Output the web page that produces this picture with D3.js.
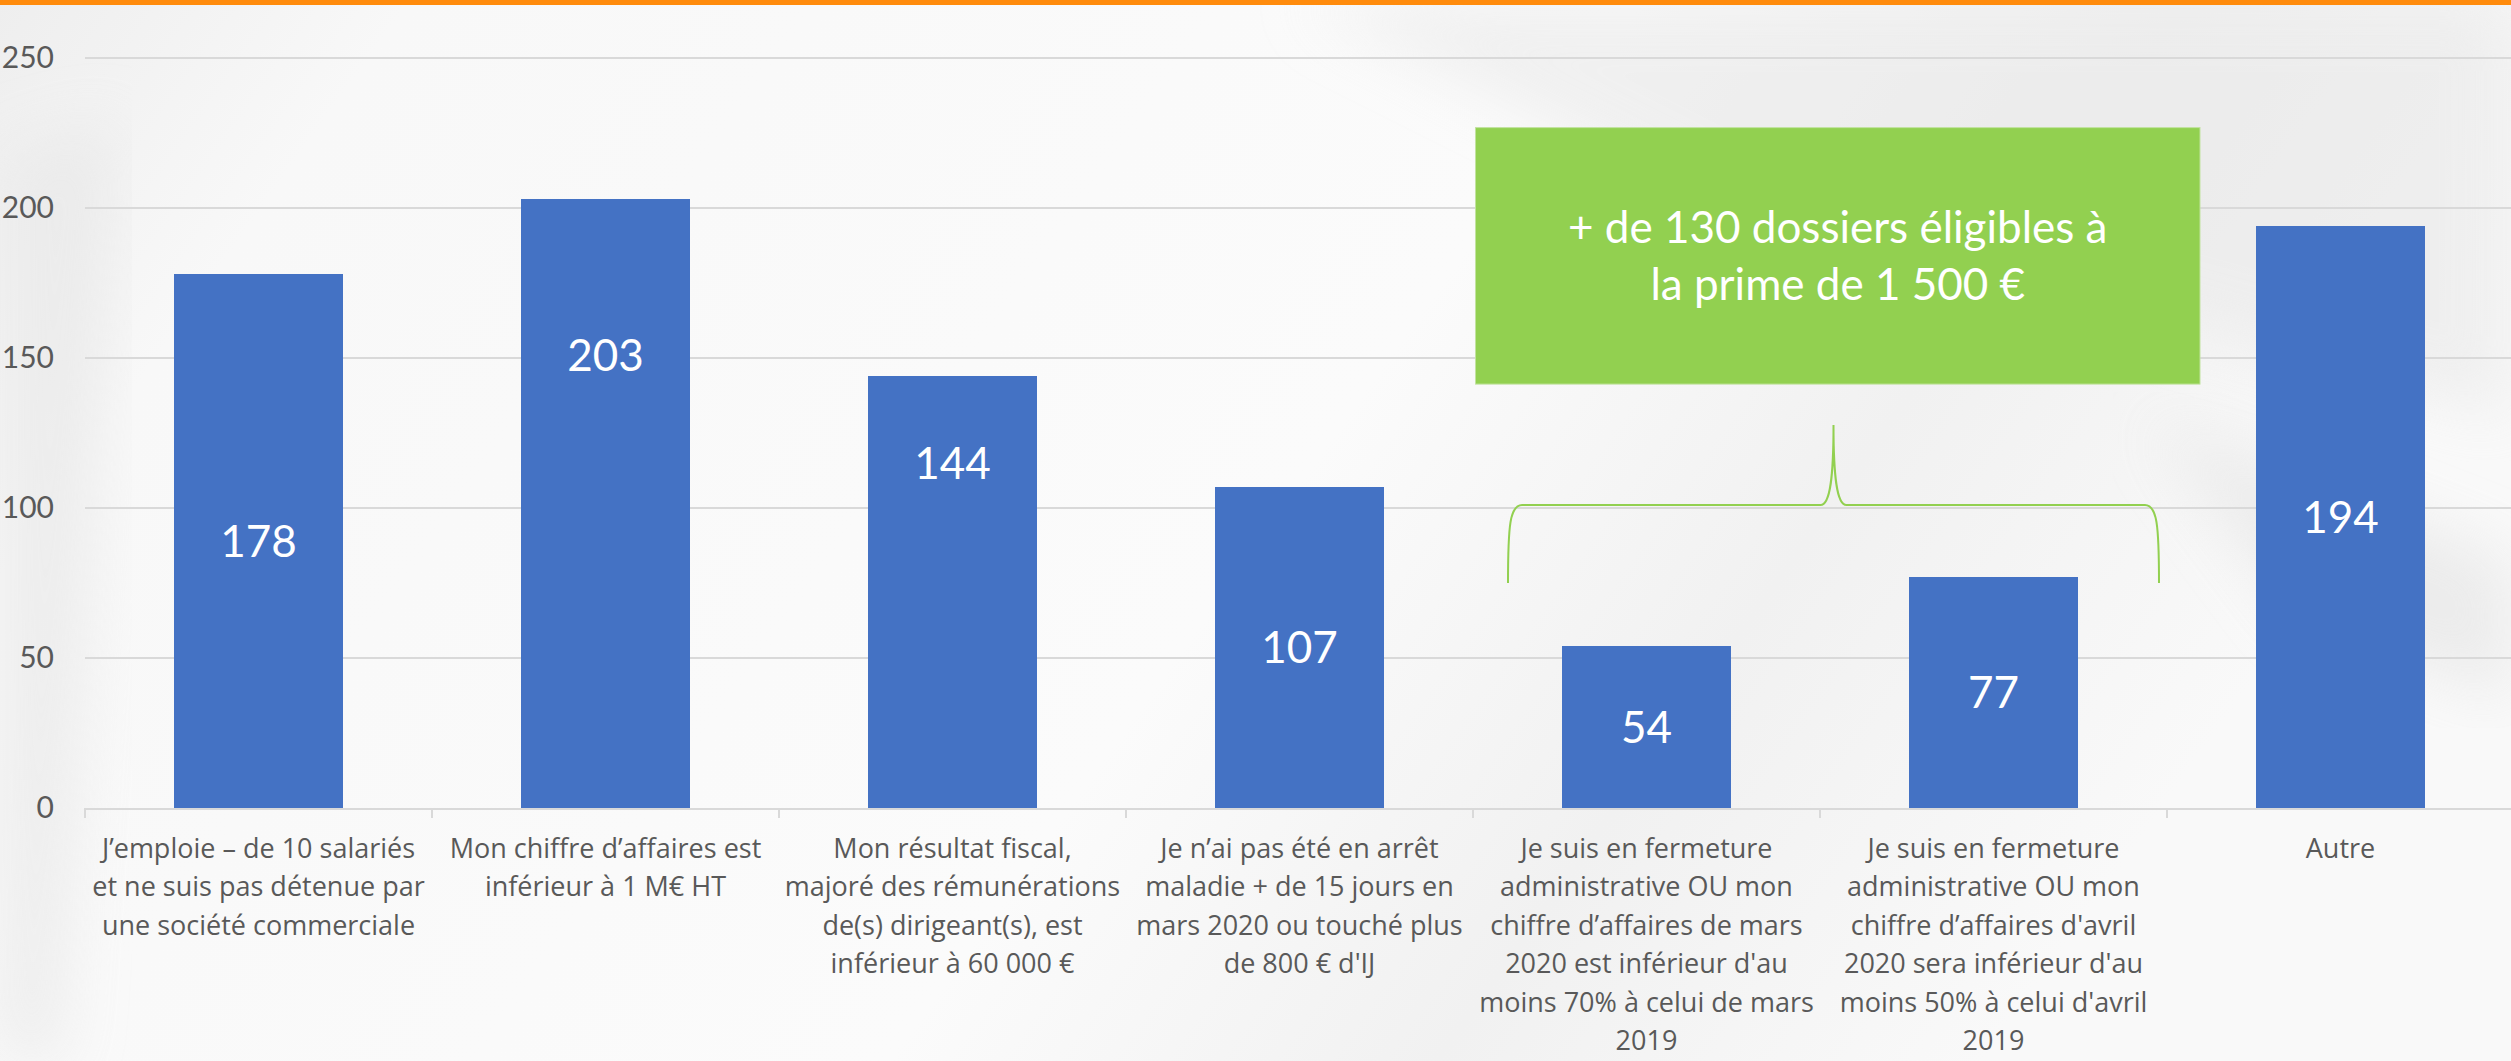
<!DOCTYPE html>
<html lang="fr">
<head>
<meta charset="utf-8">
<title>Dossiers éligibles</title>
<script src="https://cdn.jsdelivr.net/npm/d3@7/dist/d3.min.js"></script>
<style>
  body { margin: 0; background: #f6f6f6; overflow: hidden; }
  svg { display: block; font-family: Lato, "Open Sans", sans-serif; }
</style>
</head>
<body>
<div id="chart"></div>
<script>
// categories (line breaks as in the original slide)
var categories = [
  "J’emploie – de 10 salariés\net ne suis pas détenue par\nune société commerciale",
  "Mon chiffre d’affaires est\ninférieur à 1 M€ HT",
  "Mon résultat fiscal,\nmajoré des rémunérations\nde(s) dirigeant(s), est\ninférieur à 60 000 €",
  "Je n’ai pas été en arrêt\nmaladie + de 15 jours en\nmars 2020 ou touché plus\nde 800 € d'IJ",
  "Je suis en fermeture\nadministrative OU mon\nchiffre d’affaires de mars\n2020 est inférieur d'au\nmoins 70% à celui de mars\n2019",
  "Je suis en fermeture\nadministrative OU mon\nchiffre d’affaires d'avril\n2020 sera inférieur d'au\nmoins 50% à celui d'avril\n2019",
  "Autre"
];
var values = [178, 203, 144, 107, 54, 77, 194];
var yTicks = [0, 50, 100, 150, 200, 250];
// the 203 and 144 labels were moved up by hand in the original
var labelLift = [0, 49.5, 43, 0, 0, 0, 0];
var calloutLines = ["+ de 130 dossiers éligibles à", "la prime de 1 500 €"];
var bracketCats = [4, 5];

var W = 2511, H = 1061;
var svg = d3.select("#chart").append("svg")
    .attr("width", W)
    .attr("height", H);

// background
var defs = svg.append("defs");
var bg = defs.append("linearGradient").attr("id", "bg")
    .attr("x1", "0").attr("y1", "0").attr("x2", "1").attr("y2", "0.3");
bg.append("stop").attr("offset", "0").attr("stop-color", "#eeeeee");
bg.append("stop").attr("offset", "0.15").attr("stop-color", "#f8f8f8");
bg.append("stop").attr("offset", "0.6").attr("stop-color", "#fbfbfb");
bg.append("stop").attr("offset", "0.8").attr("stop-color", "#f1f1f1");
bg.append("stop").attr("offset", "1").attr("stop-color", "#f9f9f9");
defs.append("filter").attr("id", "blur")
    .append("feGaussianBlur").attr("stdDeviation", 30);
svg.append("rect").attr("width", W).attr("height", H).attr("fill", "url(#bg)");
svg.append("path")
    .attr("d", "M1300,0 L2511,0 L2511,420 L2200,330 L1700,200 Z")
    .attr("fill", "#e9e9e9").attr("opacity", 0.6).attr("filter", "url(#blur)");
svg.append("path")
    .attr("d", "M2150,420 L2511,560 L2511,700 L2300,620 Z")
    .attr("fill", "#e6e6e6").attr("opacity", 0.7).attr("filter", "url(#blur)");
svg.append("path")
    .attr("d", "M0,150 L120,120 L60,1061 L0,1061 Z")
    .attr("fill", "#e8e8e8").attr("opacity", 0.7).attr("filter", "url(#blur)");

// orange band on top
svg.append("rect").attr("x", 0).attr("y", 0).attr("width", W).attr("height", 5)
    .attr("fill", "#ff8b0c");

// scales
var x = d3.scaleBand()
    .domain(d3.range(categories.length))
    .range([85, 2514])
    .paddingInner(0.513)
    .paddingOuter(0.2565);
var y = d3.scaleLinear().domain([0, 250]).range([808, 58]);
var step = x.step();
var slot = function(i) { return x(i) - x.paddingOuter() * step; };

// grid
svg.append("g").selectAll("line")
    .data(yTicks.filter(function(d) { return d > 0; }))
    .enter().append("line")
    .attr("x1", 85).attr("x2", W)
    .attr("y1", function(d) { return y(d); })
    .attr("y2", function(d) { return y(d); })
    .attr("stroke", "#d9d9d9").attr("stroke-width", 2);

// y axis labels
var yAxis = svg.append("g")
    .attr("transform", "translate(54,0)")
    .call(d3.axisLeft(y).tickValues(yTicks).tickSize(0).tickPadding(0));
yAxis.select(".domain").remove();
yAxis.selectAll("text")
    .attr("font-family", "Lato, sans-serif")
    .attr("font-size", 30)
    .attr("fill", "#595959");

// bars
svg.append("g").selectAll("rect")
    .data(values)
    .enter().append("rect")
    .attr("x", function(d, i) { return x(i); })
    .attr("y", function(d) { return y(d); })
    .attr("width", x.bandwidth())
    .attr("height", function(d) { return y(0) - y(d); })
    .attr("fill", "#4472c4");

// x axis line and ticks
svg.append("line")
    .attr("x1", 85).attr("x2", W)
    .attr("y1", y(0) + 1).attr("y2", y(0) + 1)
    .attr("stroke", "#d9d9d9").attr("stroke-width", 2);
svg.append("g").selectAll("line")
    .data(d3.range(categories.length + 1))
    .enter().append("line")
    .attr("x1", function(i) { return 85 + i * step; })
    .attr("x2", function(i) { return 85 + i * step; })
    .attr("y1", y(0)).attr("y2", y(0) + 10)
    .attr("stroke", "#d9d9d9").attr("stroke-width", 2);

// category labels
var catLabels = svg.append("g").selectAll("text")
    .data(categories)
    .enter().append("text")
    .attr("text-anchor", "middle")
    .attr("font-family", "'Open Sans', sans-serif")
    .attr("font-size", 27)
    .attr("fill", "#595959");
catLabels.each(function(d, i) {
    var t = d3.select(this);
    d.split("\n").forEach(function(line, k) {
        t.append("tspan")
            .attr("x", x(i) + x.bandwidth() / 2)
            .attr("y", 858 + k * 38.4)
            .text(line);
    });
});

// data labels
svg.append("g").selectAll("text")
    .data(values)
    .enter().append("text")
    .attr("x", function(d, i) { return x(i) + x.bandwidth() / 2; })
    .attr("y", function(d, i) { return y(d / 2 + labelLift[i]); })
    .attr("dy", "0.36em")
    .attr("text-anchor", "middle")
    .attr("font-size", 44)
    .attr("fill", "#ffffff")
    .text(function(d) { return d; });

// callout box
var boxL = slot(4) + 2.5, boxR = slot(6) + 33;
svg.append("rect")
    .attr("x", boxL).attr("y", y(226.8))
    .attr("width", boxR - boxL).attr("height", y(141.3) - y(226.8))
    .attr("fill", "#92d050")
    .attr("stroke", "#c2e39f").attr("stroke-width", 1);
svg.append("g").selectAll("text")
    .data(calloutLines)
    .enter().append("text")
    .attr("x", (boxL + boxR) / 2)
    .attr("y", function(d, k) { return 243 + k * 57; })
    .attr("text-anchor", "middle")
    .attr("font-size", 44)
    .attr("fill", "#ffffff")
    .text(function(d) { return d; });

// curly bracket over the two "fermeture" bars
var bl = slot(bracketCats[0]) + 35;
var br = slot(bracketCats[1]) + step - 8;
var bm = (bl + br) / 2;
var yb = y(75), yh = y(101), yt = y(127.7);
var brace = d3.path();
brace.moveTo(bl, yb);
brace.bezierCurveTo(bl, yh + 20, bl + 2, yh, bl + 14, yh);
brace.lineTo(bm - 13, yh);
brace.bezierCurveTo(bm - 3, yh, bm, yh - 30, bm, yt);
brace.bezierCurveTo(bm, yh - 30, bm + 3, yh, bm + 13, yh);
brace.lineTo(br - 14, yh);
brace.bezierCurveTo(br - 2, yh, br, yh + 20, br, yb);
svg.append("path")
    .attr("d", brace.toString())
    .attr("fill", "none")
    .attr("stroke", "#92d050")
    .attr("stroke-width", 2);
</script>
</body>
</html>
